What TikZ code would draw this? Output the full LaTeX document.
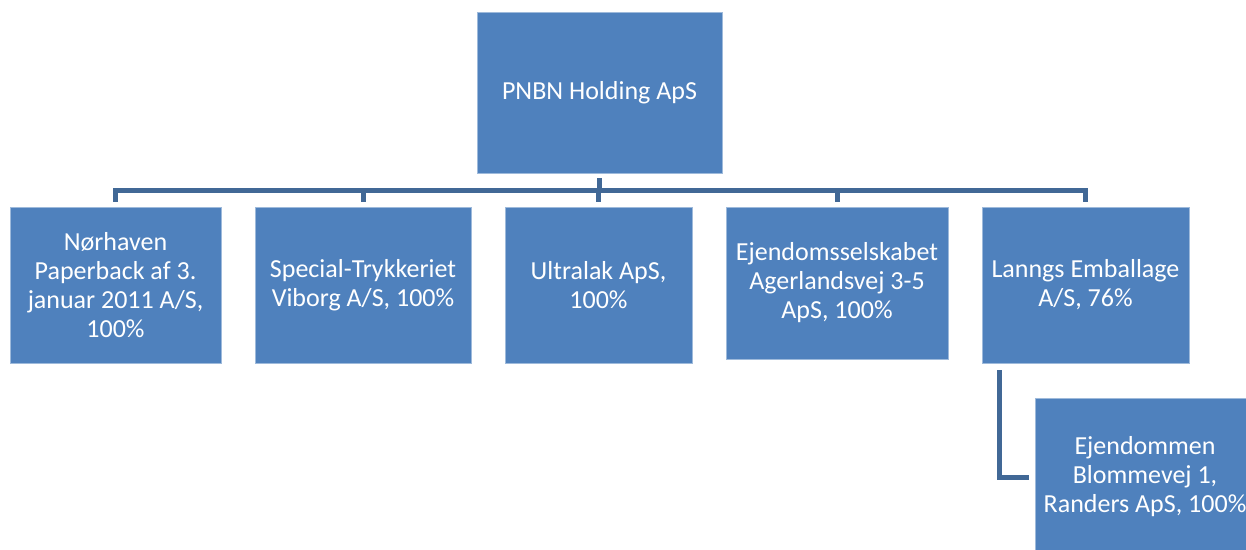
\documentclass[tikz,border=0pt]{standalone}
\usepackage{fontspec}
\setmainfont{Carlito}
\definecolor{boxblue}{RGB}{79,129,189}
\definecolor{linkblue}{RGB}{65,104,150}
\tikzset{
  orgbox/.style={fill=boxblue, draw=boxblue!55!white, line width=0.8pt, text=white,
    align=center, inner sep=0pt, font=\fontsize{26}{29}\selectfont},
  link/.style={draw=linkblue, line width=5pt, shorten <=5pt, shorten >=5pt}
}
\begin{document}
\begin{tikzpicture}[x=1pt,y=-1pt]
\useasboundingbox (0,0) rectangle (1246,549);
\begin{scope}
\clip (0,0) rectangle (1246,549);

\node[orgbox, minimum width=245pt, minimum height=161pt] (top) at (599.5,92.5) {PNBN Holding ApS};

\node[orgbox, minimum width=211pt, minimum height=156pt] (nor) at (115.5,285) {Nørhaven\\Paperback af 3.\\januar 2011 A/S,\\100\%};
\node[orgbox, minimum width=216pt, minimum height=156pt] (spec) at (363,285) {Special-Trykkeriet\\Viborg A/S, 100\%};
\node[orgbox, minimum width=187pt, minimum height=156pt] (ultra) at (598.5,285) {Ultralak ApS,\\100\%};
\node[orgbox, minimum width=222pt, minimum height=152pt] (ejsel) at (837,283) {Ejendomsselskabet\\Agerlandsvej 3-5\\ApS, 100\%};
\node[orgbox, minimum width=207pt, minimum height=156pt] (lanngs) at (1085.5,285) {Lanngs Emballage\\A/S, 76\%};

\node[orgbox, minimum width=220pt, minimum height=158pt] (blom) at (1145,477) {Ejendommen\\Blommevej 1,\\Randers ApS, 100\%};

\foreach \child in {nor,spec,ultra,ejsel,lanngs}
  \draw[link] (top.south) -- ++(0,17) -| (\child.north);

\coordinate (side) at ([xshift=18pt]lanngs.south west);
\draw[link, shorten <=7pt, shorten >=6pt] (side) -- (side |- blom.west) -- (blom.west);
\end{scope}
\end{tikzpicture}
\end{document}
